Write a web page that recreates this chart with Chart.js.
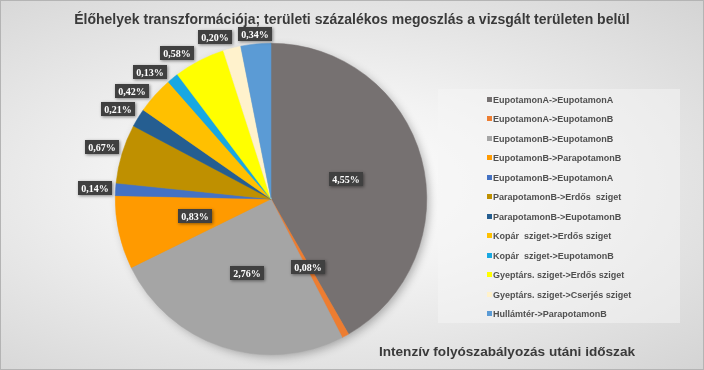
<!DOCTYPE html>
<html>
<head>
<meta charset="utf-8">
<script src="https://cdn.jsdelivr.net/npm/chart.js@4"></script>
<style>
    html, body { margin: 0; padding: 0; }
    #wrap {
        position: relative;
        width: 704px;
        height: 370px;
        box-sizing: border-box;
        border: 1px solid #b4b4b4;
        overflow: hidden;
        background: radial-gradient(ellipse at 45% 50%, #ffffff 0%, #f3f3f3 35%, #e0e0e0 75%, #d4d4d4 100%);
        font-family: "Liberation Sans", Arial, sans-serif;
    }
    #chart { position: absolute; left: -1px; top: -1px; }
    .title {
        position: absolute; left: 0; top: 10px; width: 702px;
        text-align: center; font-weight: bold; font-size: 14px; line-height: 16px;
        color: #3a3a3a; white-space: nowrap;
    }
    .subtitle {
        position: absolute; right: 68px; top: 343px;
        font-weight: bold; font-size: 13.6px; line-height: 16px;
        color: #3a3a3a; white-space: nowrap;
    }
    #legend {
        position: absolute; left: 437px; top: 88px; width: 242px; height: 234px;
        background: rgba(246,246,246,0.5);
    }
    .item {
        position: absolute; left: 49px; height: 12px; line-height: 12px;
        font-weight: bold; font-size: 9px; color: #505050; white-space: pre;
    }
    .item i {
        display: inline-block; width: 5px; height: 5px; margin-right: 1px;
        vertical-align: 1px;
    }
</style>
</head>
<body>
<div id="wrap">
    <canvas id="chart" width="704" height="370"></canvas>
    <div class="title">Élőhelyek transzformációja; területi százalékos megoszlás a vizsgált területen belül</div>
    <div id="legend"></div>
    <div class="subtitle">Intenzív folyószabályozás utáni időszak</div>
</div>
<script>
// kategóriák (átmenetek)
const categories = [
    'EupotamonA->EupotamonA',
    'EupotamonA->EupotamonB',
    'EupotamonB->EupotamonB',
    'EupotamonB->ParapotamonB',
    'EupotamonB->EupotamonA',
    'ParapotamonB->Erdős  sziget',
    'ParapotamonB->EupotamonB',
    'Kopár  sziget->Erdős sziget',
    'Kopár  sziget->EupotamonB',
    'Gyeptárs. sziget->Erdős sziget',
    'Gyeptárs. sziget->Cserjés sziget',
    'Hullámtér->ParapotamonB',
]

// területi százalék
const shares = [4.55, 0.08, 2.76, 0.83, 0.14, 0.67, 0.21, 0.42, 0.13, 0.58, 0.20, 0.34]

const colors = [
    '#767171', '#ED7D31', '#A5A5A5', '#FF9A00', '#4472C4', '#BF9000',
    '#255E91', '#FFC000', '#18A8E2', '#FFFF00', '#FFF2CC', '#5B9BD5',
]

// címke elhelyezés: belül / kívül
const labelPlacement = ['in', 'in', 'in', 'in', 'out', 'out', 'out', 'out', 'out', 'out', 'out', 'out']

const fmt = v => v.toFixed(2).replace('.', ',') + '%'

// jelmagyarázat
const legend = document.getElementById('legend')
categories.forEach((name, i) => {
    const el = document.createElement('div')
    el.className = 'item'
    el.style.top = (5 + i * 19.45) + 'px'
    el.innerHTML = '<i style="background:' + colors[i] + '"></i>'
    el.appendChild(document.createTextNode(name))
    legend.appendChild(el)
})

// árnyék a kör alatt
const pieShadow = {
    id: 'pieShadow',
    beforeDatasetsDraw(chart) {
        const arc = chart.getDatasetMeta(0).data[0]
        if (!arc) return
        const ctx = chart.ctx
        ctx.save()
        ctx.shadowColor = 'rgba(0,0,0,0.3)'
        ctx.shadowBlur = 10
        ctx.shadowOffsetX = 3
        ctx.shadowOffsetY = 3
        ctx.fillStyle = '#999'
        ctx.beginPath()
        ctx.arc(arc.x, arc.y, arc.outerRadius - 1, 0, Math.PI * 2)
        ctx.fill()
        ctx.restore()
    }
}

// adatcímkék sötét dobozban
const boxLabels = {
    id: 'boxLabels',
    afterDatasetsDraw(chart) {
        const ctx = chart.ctx
        const meta = chart.getDatasetMeta(0)
        const values = chart.data.datasets[0].data
        ctx.save()
        ctx.font = 'bold 10px "Liberation Serif", "Times New Roman", serif'
        ctx.textAlign = 'center'
        ctx.textBaseline = 'middle'

        const placed = []
        const h = 14
        const m = 4
        const hits = (b) => placed.some(p =>
            b.x - b.w / 2 < p.x + p.w / 2 + m && b.x + b.w / 2 + m > p.x - p.w / 2 &&
            b.y - h / 2 < p.y + h / 2 + m && b.y + h / 2 + m > p.y - h / 2)

        const boxes = []
        meta.data.forEach((arc, i) => {
            const { x, y, startAngle, endAngle, outerRadius } = arc.getProps(['x', 'y', 'startAngle', 'endAngle', 'outerRadius'], true)
            const text = fmt(values[i])
            const w = Math.round(ctx.measureText(text).width) + 6
            boxes.push({ i, x0: x, y0: y, r: outerRadius, a: (startAngle + endAngle) / 2, text, w })
        })

        // belső címkék
        boxes.filter(b => labelPlacement[b.i] === 'in').forEach(b => {
            b.x = b.x0 + Math.cos(b.a) * b.r * 0.5
            b.y = b.y0 + Math.sin(b.a) * b.r * 0.5
            placed.push(b)
        })

        // külső címkék, felülről az óramutatóval ellentétesen
        boxes.filter(b => labelPlacement[b.i] === 'out')
            .sort((p, q) => q.a - p.a)
            .forEach(b => {
                let a = b.a
                for (let k = 0; k < 80; k++) {
                    const ux = Math.cos(a), uy = Math.sin(a)
                    const ext = b.w / 2 * Math.abs(ux) + h / 2 * Math.abs(uy)
                    const d = b.r + 3 + ext
                    b.x = b.x0 + ux * d
                    b.y = Math.max(b.y0 + uy * d, 27 + h / 2)
                    if (!hits(b)) break
                    a -= Math.PI / 360
                }
                placed.push(b)
            })

        placed.forEach(b => {
            ctx.save()
            ctx.shadowColor = 'rgba(0,0,0,0.45)'
            ctx.shadowBlur = 3
            ctx.shadowOffsetX = 1
            ctx.shadowOffsetY = 1
            ctx.fillStyle = '#404040'
            ctx.fillRect(Math.round(b.x - b.w / 2), Math.round(b.y - h / 2), b.w, h)
            ctx.restore()
            ctx.fillStyle = '#ffffff'
            ctx.fillText(b.text, Math.round(b.x), Math.round(b.y) + 1)
        })
        ctx.restore()
    }
}

new Chart(document.getElementById('chart'), {
    type: 'pie',
    data: {
        labels: categories,
        datasets: [{
            data: shares,
            backgroundColor: colors,
            borderColor: colors,
            borderWidth: 0.5,
        }]
    },
    options: {
        responsive: false,
        animation: false,
        layout: {
            padding: { left: 115, right: 277, top: 43, bottom: 15 }
        },
        plugins: {
            legend: { display: false },
            tooltip: { enabled: false },
        }
    },
    plugins: [pieShadow, boxLabels]
})
</script>
</body>
</html>
